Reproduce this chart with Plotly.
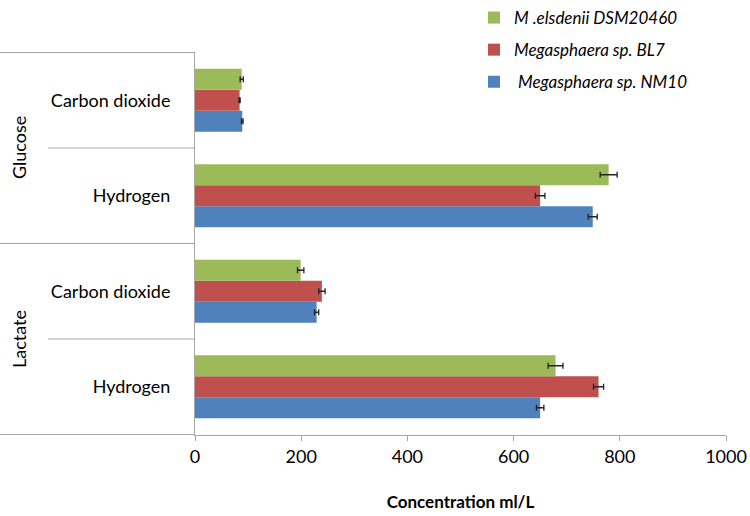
import plotly.graph_objects as go

# Data
substrates = ["Glucose", "Glucose", "Lactate", "Lactate"]
gases = ["Carbon dioxide", "Hydrogen", "Carbon dioxide", "Hydrogen"]
nm10 = [89, 749, 229, 650]
nm10_err = [1.5, 8.5, 4, 7]
bl7 = [84, 650, 239, 760]
bl7_err = [1, 9, 6, 9.5]
elsdenii = [88, 779, 199, 679]
elsdenii_err = [3, 16, 6, 14]
x_ticks = [0, 200, 400, 600, 800, 1000]

keys = [f"{s}|{g}" for s, g in zip(substrates, gases)]
order_bottom_up = keys[::-1]

fig = go.Figure()
series = [
    (" Megasphaera sp. NM10", nm10, nm10_err, "#4F81BD", 3),
    ("Megasphaera sp. BL7", bl7, bl7_err, "#C0504D", 2),
    ("M .elsdenii DSM20460", elsdenii, elsdenii_err, "#9BBB59", 1),
]
for i, (name, vals, errs, col, rank) in enumerate(series):
    fig.add_trace(go.Bar(
        y=keys, x=vals, orientation="h", name=f"<i>{name}</i>",
        marker=dict(color=col, line=dict(width=0)),
        error_x=dict(type="data", array=errs, color="#222222", thickness=1.3, width=3),
        legendgroup=str(i), legendrank=rank,
    ))

line_col = "#A6A6A6"
shapes = []
for yv in [3.5, 1.5, -0.5]:
    shapes.append(dict(type="line", xref="paper", yref="y", x0=-195/531, x1=0, y0=yv, y1=yv,
                       line=dict(color=line_col, width=1)))
for yv in [2.5, 0.5]:
    shapes.append(dict(type="line", xref="paper", yref="y", x0=-147/531, x1=0, y0=yv, y1=yv,
                       line=dict(color=line_col, width=1)))

annotations = [
    dict(text="Glucose", x=-176/531, xref="paper", y=2.5, yref="y", textangle=-90,
         showarrow=False, font=dict(size=18, color="#000000"), xanchor="center", yanchor="middle"),
    dict(text="Lactate", x=-176/531, xref="paper", y=0.5, yref="y", textangle=-90,
         showarrow=False, font=dict(size=18, color="#000000"), xanchor="center", yanchor="middle"),
]

fig.update_layout(
    width=750, height=516,
    margin=dict(l=195, r=24, t=52, b=81, autoexpand=False),
    paper_bgcolor="white", plot_bgcolor="white",
    font=dict(family="Lato, Open Sans, sans-serif", size=17, color="#000000"),
    barmode="group", bargap=0.34, bargroupgap=0,
    showlegend=True,
    legend=dict(x=474/750, y=1.0 + 9/516, xref="container", yref="container", xanchor="left", yanchor="top",
                traceorder="grouped", tracegroupgap=7,
                font=dict(size=17, color="#000000"), bgcolor="rgba(0,0,0,0)",
                itemwidth=30),
    xaxis=dict(range=[0, 1000], tickvals=x_ticks, showgrid=False, zeroline=False,
               showline=True, linecolor=line_col, linewidth=1, ticks="outside",
               tickcolor=line_col, ticklen=5, tickfont=dict(size=18),
               title=dict(text="<b>Concentration ml/L</b>", font=dict(size=17), standoff=30)),
    yaxis=dict(type="category", categoryorder="array", categoryarray=order_bottom_up,
               tickmode="array", tickvals=keys, ticktext=gases,
               showline=True, linecolor=line_col, linewidth=1, showgrid=False,
               ticks="", ticklabelstandoff=20, tickfont=dict(size=18)),
    shapes=shapes, annotations=annotations,
)

fig.write_html("out.html", config={"displayModeBar": False},
               post_script="document.body.style.margin='0';document.body.style.overflow='hidden';")
